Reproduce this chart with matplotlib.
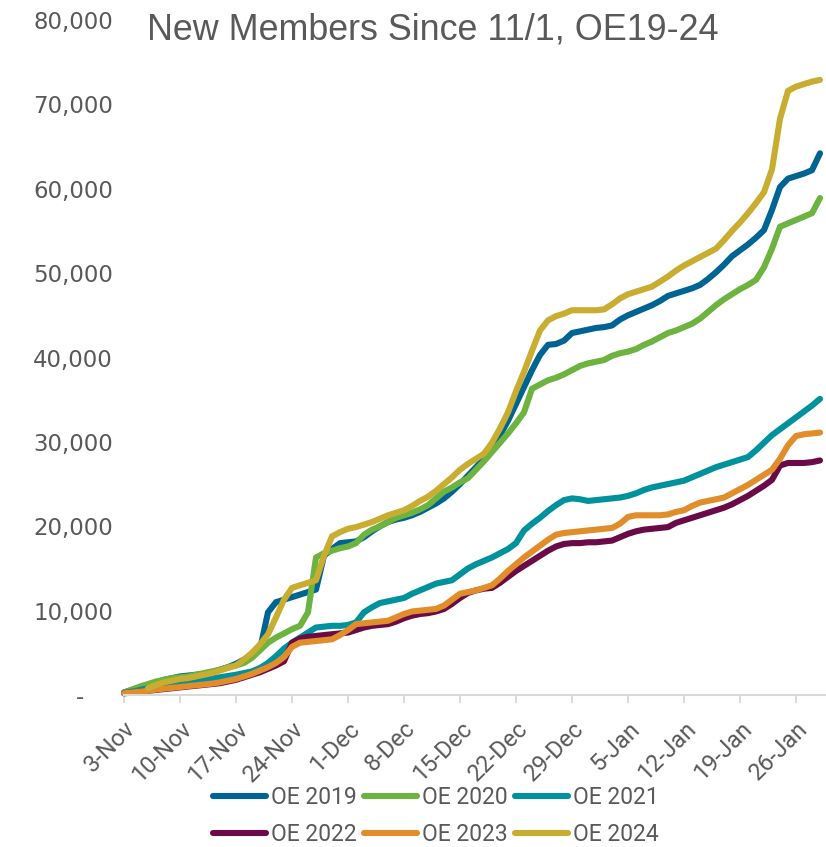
import numpy as np
import matplotlib
matplotlib.use("Agg")
import matplotlib.pyplot as plt

# ---------------- data ----------------
tick_labels = ["3-Nov", "10-Nov", "17-Nov", "24-Nov", "1-Dec", "8-Dec", "15-Dec",
               "22-Dec", "29-Dec", "5-Jan", "12-Jan", "19-Jan", "26-Jan"]
series_names = ["OE 2019", "OE 2020", "OE 2021", "OE 2022", "OE 2023", "OE 2024"]

oe2019 = [300, 600, 900, 1200, 1500, 1800, 2000, 2200, 2300, 2400, 2500, 2700, 3000, 3300, 3700,
          4200, 4800, 5400, 9800, 11000, 11300, 11600, 11900, 12200, 12500, 16500, 17300, 18000,
          18100, 18200, 18700, 19400, 20000, 20500, 20800, 21000, 21300, 21700, 22200, 22700,
          23300, 24100, 25000, 26000, 27000, 28000, 29300, 30800, 32500, 34500, 36500, 38500,
          40300, 41500, 41600, 42000, 42900, 43100, 43300, 43500, 43600, 43800, 44500, 45000,
          45400, 45800, 46200, 46700, 47300, 47600, 47900, 48200, 48600, 49300, 50100, 51000,
          52000, 52700, 53400, 54200, 55100, 57500, 60200, 61200, 61500, 61800, 62200, 64200]
oe2020 = [300, 650, 1000, 1300, 1600, 1800, 2000, 2100, 2200, 2400, 2600, 2800, 3000, 3300, 3500,
          3800, 4400, 5300, 6200, 6800, 7300, 7800, 8200, 9800, 16300, 16800, 17100, 17400,
          17600, 18000, 19000, 19600, 20000, 20500, 21000, 21300, 21600, 22000, 22500, 23300,
          24100, 24600, 25200, 25700, 26700, 27700, 28800, 29900, 31000, 32200, 33500, 36300,
          36800, 37300, 37600, 38000, 38500, 39000, 39300, 39500, 39700, 40200, 40500, 40700,
          41000, 41500, 41900, 42400, 42900, 43200, 43600, 44000, 44600, 45400, 46200, 46900,
          47500, 48100, 48600, 49200, 50700, 52900, 55500, 55900, 56300, 56700, 57100, 58900]
oe2021 = [250, 400, 600, 800, 950, 1100, 1300, 1450, 1600, 1700, 1800, 1950, 2100, 2250, 2400,
          2600, 2800, 3200, 3800, 4600, 5500, 6200, 6800, 7400, 8000, 8100, 8200, 8200,
          8300, 8600, 9800, 10400, 10900, 11100, 11300, 11500, 12000, 12400, 12800, 13200,
          13400, 13600, 14300, 15000, 15500, 15900, 16300, 16800, 17300, 18000, 19500, 20300,
          21000, 21800, 22500, 23100, 23300, 23200, 23000, 23100, 23200, 23300, 23400, 23600,
          23900, 24300, 24600, 24800, 25000, 25200, 25400, 25800, 26200, 26600, 27000, 27300,
          27600, 27900, 28200, 29000, 29900, 30800, 31500, 32200, 32900, 33600, 34300, 35100]
oe2022 = [200, 300, 400, 500, 600, 700, 800, 900, 1000, 1100, 1200, 1300, 1400, 1600, 1800,
          2100, 2400, 2700, 3100, 3500, 4000, 6200, 6700, 6900, 7000, 7100, 7200, 7300,
          7400, 7700, 8000, 8200, 8300, 8400, 8700, 9100, 9400, 9600, 9700, 9900,
          10200, 10800, 11500, 12100, 12400, 12600, 12700, 13300, 14000, 14700, 15300, 15900,
          16500, 17100, 17600, 17900, 18000, 18000, 18100, 18100, 18200, 18300, 18700, 19100,
          19400, 19600, 19700, 19800, 19900, 20400, 20700, 21000, 21300, 21600, 21900, 22200,
          22600, 23100, 23600, 24200, 24800, 25500, 27200, 27500, 27500, 27500, 27600, 27800]
oe2023 = [200, 300, 400, 500, 650, 750, 850, 950, 1050, 1150, 1250, 1350, 1500, 1700, 1900,
          2200, 2500, 2900, 3300, 3800, 4500, 5700, 6200, 6300, 6400, 6500, 6600, 7100,
          7700, 8400, 8500, 8600, 8700, 8800, 9200, 9600, 9900, 10000, 10100, 10200,
          10600, 11300, 12000, 12200, 12400, 12700, 13000, 13800, 14700, 15500, 16300, 17000,
          17700, 18400, 19000, 19200, 19300, 19400, 19500, 19600, 19700, 19800, 20300, 21100,
          21300, 21300, 21300, 21300, 21400, 21700, 21900, 22400, 22800, 23000, 23200, 23400,
          23900, 24400, 24900, 25500, 26100, 26700, 28000, 29600, 30700, 30900, 31000, 31100]
oe2024 = [np.nan, np.nan, np.nan, 800, 1200, 1500, 1700, 1900, 2000, 2200, 2400, 2600, 2900, 3200, 3500,
          4200, 5000, 6000, 7200, 9200, 11300, 12700, 13000, 13300, 13600, 16500, 18800, 19300,
          19700, 19900, 20200, 20500, 20900, 21300, 21600, 21900, 22400, 23000, 23500, 24200,
          25000, 25800, 26700, 27400, 28000, 28600, 29900, 31600, 33500, 36000, 38300, 40800,
          43200, 44400, 44900, 45200, 45600, 45600, 45600, 45600, 45700, 46300, 47000, 47500,
          47800, 48100, 48400, 49000, 49600, 50300, 50900, 51400, 51900, 52400, 52900, 53900,
          55000, 56000, 57100, 58300, 59600, 62300, 68300, 71600, 72100, 72400, 72700, 72900]

# ---------------- style ----------------
colors = ["#006492", "#6DB33F", "#00929C", "#6A0A47", "#E08D2A", "#C8AD30"]
text_color = "#595959"
axis_color = "#D9D9D9"

W, H = 826, 847
fig = plt.figure(figsize=(W / 100, H / 100), dpi=100)
ax = fig.add_axes([124 / W, 152 / H, 702 / W, 675 / H])

all_series = [oe2019, oe2020, oe2021, oe2022, oe2023, oe2024]
days = np.arange(len(oe2019))
handles = []
for name, vals, c in zip(series_names, all_series, colors):
    ln, = ax.plot(days, vals, color=c, lw=4.4, solid_capstyle="round",
                  solid_joinstyle="round", clip_on=False, label=name)
    handles.append(ln)

ax.set_xlim(0, 87.75)
ax.set_ylim(0, 80000)

# y axis
yt = np.arange(0, 80001, 10000)
ax.set_yticks(yt)
ax.set_yticklabels(["-    "] + [f"{v:,.0f}" for v in yt[1:]],
                   fontsize=16.5, color=text_color, family="DejaVu Sans")
ax.tick_params(axis="y", length=0, pad=8)

# x axis
ax.set_xticks(days[::7][:len(tick_labels)])
ax.set_xticklabels(tick_labels, rotation=45, ha="right", va="top",
                   rotation_mode="anchor", fontsize=17, color=text_color,
                   family="Roboto")
ax.tick_params(axis="x", length=6, width=1.3, color=axis_color, pad=10)

for s in ["top", "right", "left"]:
    ax.spines[s].set_visible(False)
ax.spines["bottom"].set_color(axis_color)
ax.spines["bottom"].set_linewidth(1.5)

fig.text(433 / W, 1 - 30 / H, "New Members Since 11/1, OE19-24", ha="center", va="center",
         fontsize=25.8, color=text_color, family="Liberation Sans")

order = [0, 3, 1, 4, 2, 5]
leg = fig.legend([handles[i] for i in order], [series_names[i] for i in order],
                 ncol=3, loc="center", bbox_to_anchor=(436 / W, 1 - 816 / H),
                 frameon=False, handlelength=2.3, handletextpad=0.25,
                 columnspacing=0.3, labelspacing=0.65,
                 prop={"family": "Roboto", "size": 16.5})
for t in leg.get_texts():
    t.set_color(text_color)

fig.savefig("out.png", dpi=100)
